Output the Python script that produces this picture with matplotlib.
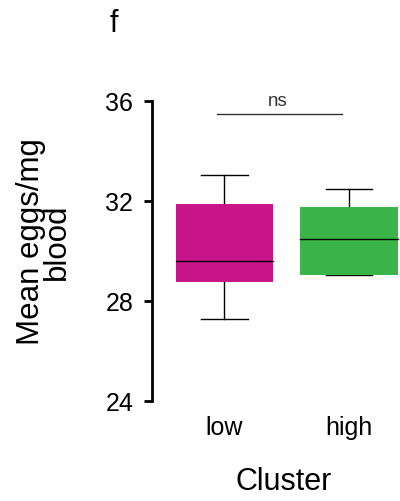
import matplotlib
matplotlib.use("Agg")
import matplotlib.pyplot as plt
from matplotlib.patches import Rectangle

plt.rcParams['font.family'] = ['Liberation Sans', 'DejaVu Sans']

categories = ["low", "high"]
q1 = [28.75, 29.05]
median = [29.59, 30.48]
q3 = [31.88, 31.76]
whisker_lo = [27.28, 29.05]
whisker_hi = [33.03, 32.47]
colors = ["#C8158A", "#3BB54A"]
yticks = [24, 28, 32, 36]
sig_y = 35.47

fig = plt.figure(figsize=(4.0, 5.01), dpi=100)
ax = fig.add_axes([0.38, 0.1996, 0.62, 0.5988])
ax.set_xlim(0.4177, 2.4096)
ax.set_ylim(24, 36)

bw = 0.78
cw = 0.375
for i, c in enumerate(categories):
    x = i + 1
    ax.add_patch(Rectangle((x - bw / 2, q1[i]), bw, q3[i] - q1[i],
                           facecolor=colors[i], edgecolor='none', zorder=2))
    ax.plot([x - bw / 2, x + bw / 2], [median[i]] * 2, color='black', lw=1.0, zorder=3)
    ax.plot([x, x], [q3[i], whisker_hi[i]], color='black', lw=1.0, zorder=1)
    ax.plot([x, x], [whisker_lo[i], q1[i]], color='black', lw=1.0, zorder=1)
    ax.plot([x - cw / 2, x + cw / 2], [whisker_hi[i]] * 2, color='black', lw=1.0, zorder=1)
    ax.plot([x - cw / 2, x + cw / 2], [whisker_lo[i]] * 2, color='black', lw=1.0, zorder=1)

ax.plot([0.942, 1.946], [sig_y, sig_y], color='#333333', lw=1.0, clip_on=False)
ax.text(1.43, sig_y + 0.33, "ns", ha='center', va='baseline', fontsize=13.5, color='#333333',
        clip_on=False)

ax.set_yticks(yticks)
ax.set_yticklabels([str(t) for t in yticks], fontsize=18)
ax.set_xticks([1, 2])
ax.set_xticklabels(categories, fontsize=18)
ax.tick_params(axis='x', length=0, pad=11)
ax.tick_params(axis='y', length=5.5, width=2, direction='out', pad=8)

for s in ['top', 'right', 'bottom']:
    ax.spines[s].set_visible(False)
ax.spines['left'].set_linewidth(2)

fig.text(0.709, 0.022, "Cluster", fontsize=22, ha='center', va='baseline')
fig.text(0.11, 0.517, "Mean eggs/mg\nblood", rotation=90, ha='center', va='center',
         fontsize=22.5, linespacing=0.85, multialignment='center')
fig.text(0.285, 0.953, "f", fontsize=22, ha='center', va='center')

fig.savefig("out.png", dpi=100)
